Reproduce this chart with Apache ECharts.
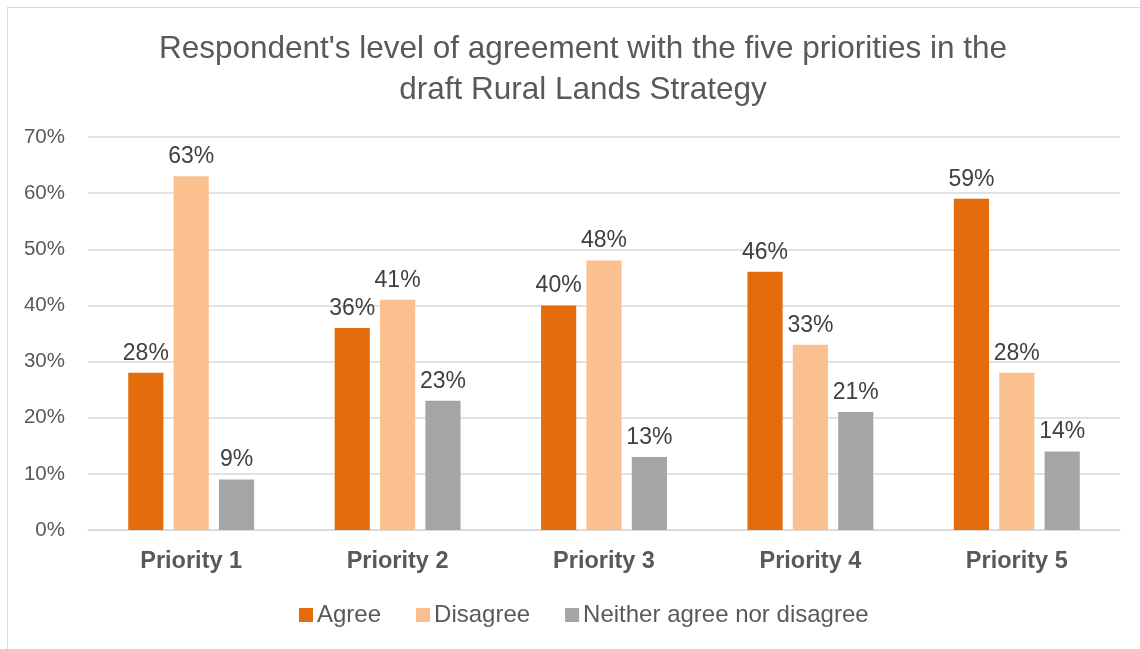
<!DOCTYPE html>
<html>
<head>
<meta charset="utf-8">
<script src="https://cdn.jsdelivr.net/npm/echarts@6/dist/echarts.min.js"></script>
<style>
  html, body { margin: 0; padding: 0; background: #fff; }
  #frame { position: absolute; left: 7px; top: 7px; width: 1140px; height: 660px; border: 1px solid #d9d9d9; box-sizing: border-box; }
  #chart { position: absolute; left: 0; top: 0; width: 1140px; height: 649px; }
</style>
</head>
<body>
<div id="frame"></div>
<div id="chart"></div>
<script>
const categories = ['Priority 1', 'Priority 2', 'Priority 3', 'Priority 4', 'Priority 5'];
const agree = [28, 36, 40, 46, 59];
const disagree = [63, 41, 48, 33, 28];
const neither = [9, 23, 13, 21, 14];
const seriesNames = ['Agree', 'Disagree', 'Neither agree nor disagree'];
const colors = ['#E46C0A', '#FAC090', '#A5A5A5'];

const font = 'Liberation Sans, Arial, sans-serif';
const chart = echarts.init(document.getElementById('chart'), null, { renderer: 'canvas' });

function barSeries(name, data, color) {
  return {
    name: name,
    type: 'bar',
    data: data,
    barGap: '29%',
    barCategoryGap: '39%',
    itemStyle: { color: color },
    label: {
      show: true,
      position: 'top',
      distance: 8,
      formatter: p => p.value + '%',
      color: '#404040',
      fontSize: 23,
      fontFamily: font
    }
  };
}

chart.setOption({
  animation: false,
  color: colors,
  title: {
    text: "Respondent's level of agreement with the five priorities in the\ndraft Rural Lands Strategy",
    left: 578,
    textAlign: 'center',
    top: 24,
    textStyle: { color: '#595959', fontSize: 31.5, fontWeight: 'normal', fontFamily: font, lineHeight: 41 }
  },
  legend: {
    top: 598,
    left: 294,
    itemWidth: 14,
    itemHeight: 14,
    itemGap: 35,
    icon: 'rect',
    textStyle: { color: '#595959', fontSize: 24, fontFamily: font, padding: [0, 0, 0, -1] },
    data: seriesNames
  },
  grid: { left: 88, right: 20, top: 137, bottom: 119, containLabel: false },
  xAxis: {
    type: 'category',
    data: categories,
    axisTick: { show: false },
    axisLine: { lineStyle: { color: '#d9d9d9', width: 1.5 } },
    axisLabel: { color: '#595959', fontSize: 23.5, fontWeight: 'bold', fontFamily: font, margin: 20 }
  },
  yAxis: {
    type: 'value',
    min: 0,
    max: 70,
    interval: 10,
    axisLine: { show: false },
    axisTick: { show: false },
    splitLine: { lineStyle: { color: '#d9d9d9', width: 1.5 } },
    axisLabel: { color: '#595959', fontSize: 20.5, fontFamily: font, margin: 23, formatter: v => v + '%' }
  },
  series: [
    barSeries(seriesNames[0], agree, colors[0]),
    barSeries(seriesNames[1], disagree, colors[1]),
    barSeries(seriesNames[2], neither, colors[2])
  ]
});
</script>
</body>
</html>
